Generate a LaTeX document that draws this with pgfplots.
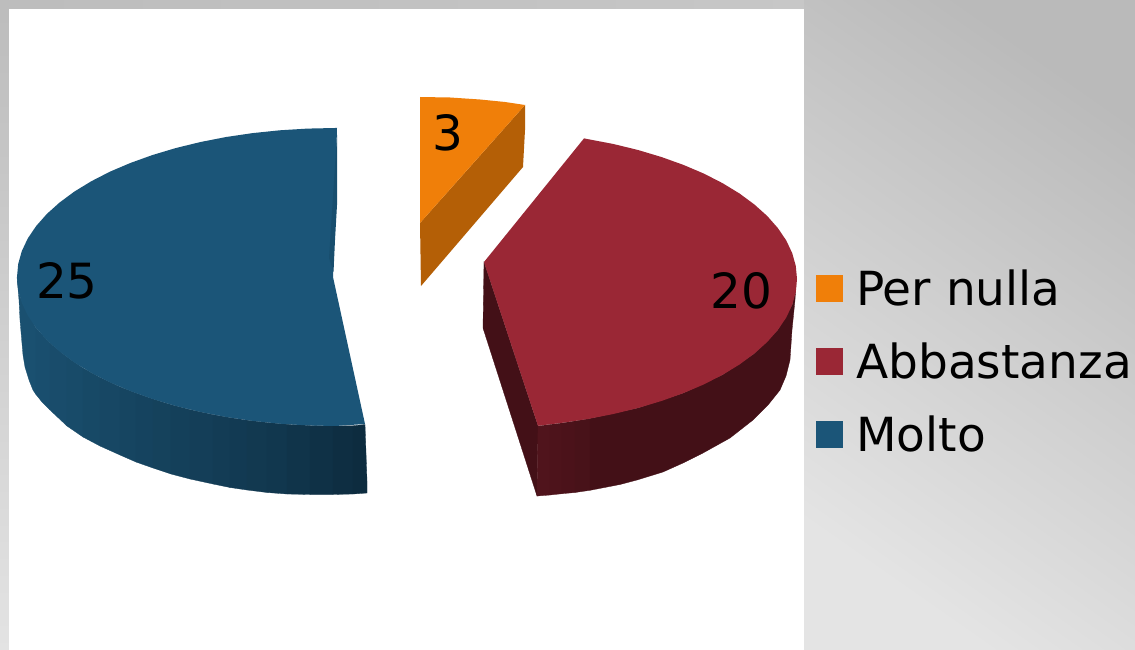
\documentclass[border=0pt]{standalone}
\usepackage{pgfplots}
\pgfplotsset{compat=1.18}
\usepackage{fontspec}
\setmainfont{DejaVu Sans}
\definecolor{bluetop}{HTML}{1B5578}
\definecolor{bluesliver}{HTML}{184E6E}
\definecolor{redtop}{HTML}{9A2735}
\definecolor{orangetop}{HTML}{F07F09}
\definecolor{orangewall}{HTML}{B45F06}
\definecolor{redwall}{HTML}{431017}
\definecolor{redwallc}{HTML}{50141C}
\definecolor{bwl}{HTML}{1A5070}
\definecolor{bwr}{HTML}{0D2C3F}
\pgfplotsset{
  strip/.style={fill=#1, draw=#1, line width=.3pt, forget plot},
  face/.style={fill=#1, draw=none, forget plot},
}
\begin{document}
\begin{tikzpicture}
\shade[top color=black!27, bottom color=black!10.5, shading angle=-35] (804pt,0) rectangle (1135pt,650pt);
\shade[left color=black!26, right color=black!22] (0,641pt) rectangle (804pt,650pt);
\shade[top color=black!26, bottom color=black!11] (0,0) rectangle (9pt,641pt);
\begin{axis}[
  at={(0,0)}, anchor=south west, scale only axis,
  width=1135pt, height=650pt,
  xmin=0, xmax=1135, ymin=0, ymax=650, y dir=reverse,
  hide axis, clip=true,
  legend style={at={(axis cs:816,268)}, anchor=north west, draw=none, fill=none,
    font=\fontsize{47}{56}\selectfont, row sep=31.5pt, inner sep=0pt},
  legend cell align=left,
  legend image code/.code={\fill[draw=none,#1] (0pt,-13.5pt) rectangle (27pt,13.5pt);\path[draw=none,fill=none] (0pt,0pt) -- (38pt,0pt);},
]
% white chart area
\addplot[fill=white, draw=none, forget plot] coordinates {(9,9)(804,9)(804,650)(9,650)} -- cycle;

% Molto: side wall strips, dark to the right
\addplot[strip=bwl!100!bwr] coordinates {(17,277)(20,297)(36,328)(36,394.5)(33,390)(29,380)(25,367)(23,355)(21.7,340)(20,320)(19,300)} -- cycle;
\addplot[strip=bwl!95!bwr] coordinates {(36,328)(50,343)(50,410)(42,402)(36,394.5)} -- cycle;
\addplot[strip=bwl!90!bwr] coordinates {(50,343)(67,357)(67,426)(50,410)} -- cycle;
\addplot[strip=bwl!85!bwr] coordinates {(67,357)(83,368)(83,437)(67,426)} -- cycle;
\addplot[strip=bwl!80!bwr] coordinates {(83,368)(100,377.4)(100,446)(83,437)} -- cycle;
\addplot[strip=bwl!75!bwr] coordinates {(100,377.4)(120,386.8)(120,455)(100,446)} -- cycle;
\addplot[strip=bwl!70!bwr] coordinates {(120,386.8)(136,393)(136,462)(120,455)} -- cycle;
\addplot[strip=bwl!65!bwr] coordinates {(136,393)(153,399)(153,468)(136,462)} -- cycle;
\addplot[strip=bwl!60!bwr] coordinates {(153,399)(171,404.6)(171,474)(153,468)} -- cycle;
\addplot[strip=bwl!55!bwr] coordinates {(171,404.6)(190,409.6)(190,479)(171,474)} -- cycle;
\addplot[strip=bwl!50!bwr] coordinates {(190,409.6)(213,414.6)(213,484)(190,479)} -- cycle;
\addplot[strip=bwl!45!bwr] coordinates {(213,414.6)(230,417.6)(230,487.5)(213,484)} -- cycle;
\addplot[strip=bwl!40!bwr] coordinates {(230,417.6)(247,420.2)(247,490)(230,487.5)} -- cycle;
\addplot[strip=bwl!35!bwr] coordinates {(247,420.2)(267,422.5)(267,492.5)(247,490)} -- cycle;
\addplot[strip=bwl!30!bwr] coordinates {(267,422.5)(287,424.3)(287,494)(267,492.5)} -- cycle;
\addplot[strip=bwl!22!bwr] coordinates {(287,424.3)(310,425.5)(310,494.5)(287,494)} -- cycle;
\addplot[strip=bwl!14!bwr] coordinates {(310,425.5)(333,426)(333,494.5)(310,494.5)} -- cycle;
\addplot[strip=bwl!6!bwr] coordinates {(333,426)(353,425.8)(353,494)(333,494.5)} -- cycle;
\addplot[strip=bwr] coordinates {(353,425.8)(365,424.5)(367,481)(367,493)(353,494)} -- cycle;
% Molto: top face
\addplot[face=bluetop] coordinates {
 (337,128)(335,128)(307.3,128.6)(279.8,130.3)(252.7,133.1)(226.2,137)(200.6,142)(176,148)(152.6,155)
 (130.6,162.9)(110.1,171.6)(91.4,181.2)(74.5,191.5)(59.6,202.5)(46.8,214)(36.2,226)(27.8,238.4)
 (21.8,251.1)(18.2,264)(17,277)(18.2,290)(21.8,302.9)(27.8,315.6)(36.2,328)(46.8,340)(59.6,351.5)
 (74.5,362.5)(91.4,372.8)(110.1,382.4)(130.6,391.1)(152.6,399)(176,406)(200.6,412)(226.2,417)
 (252.7,420.9)(279.8,423.7)(307.3,425.4)(335,426)(365,424)(333,277)} -- cycle;
\addplot[face=bluesliver] coordinates {(337,135)(337,205)(335,240)(333.5,272)(329,258)} -- cycle;

% Abbastanza: walls
\addplot[strip=redwall] coordinates {(484,262)(483,328)(537,496)(538,426)} -- cycle;
\addplot[strip=redwallc] coordinates {(538,426)(550,424.5)(550,495)(537,496)} -- cycle;
\addplot[strip=redwallc!80!redwall] coordinates {(550,424.5)(562,423)(562,493.7)(550,495)} -- cycle;
\addplot[strip=redwallc!60!redwall] coordinates {(562,423)(575,421)(575,492.5)(562,493.7)} -- cycle;
\addplot[strip=redwallc!40!redwall] coordinates {(575,421)(590,418.5)(590,490.3)(575,492.5)} -- cycle;
\addplot[strip=redwall] coordinates {
 (590,418.5)(638,408)(683.4,393.1)(722.6,374.8)(754.4,353.5)(777.8,330)(792.2,304.9)(796,285)(795,300)(792,330)
 (790,360)(786,376)(780,390)(768,405)(753,420)(730,438)(703,453)(683,463)(663,472)(637,480)(620,484.5)(590,490.3)} -- cycle;
% Abbastanza: top face
\addplot[face=redtop] coordinates {
 (484,262)(584,138.4)(613.4,144)(638,150)(661.4,157)(683.4,164.9)(703.9,173.6)(722.6,183.2)(739.5,193.5)
 (754.4,204.5)(767.2,216)(777.8,228)(786.2,240.4)(792.2,253.1)(795.8,266)(797,279)(795.8,292)(792.2,304.9)
 (786.2,317.6)(777.8,330)(767.2,342)(754.4,353.5)(739.5,364.5)(722.6,374.8)(703.9,384.4)(683.4,393.1)
 (661.4,401)(638,408)(613.4,414)(587.8,419)(561.3,422.9)(538,425.8)} -- cycle;

% Per nulla
\addplot[face=orangewall] coordinates {(420,223)(525,105)(525,130)(523,167)(421,286)} -- cycle;
\addplot[face=orangetop] coordinates {(420,97)(450,97.5)(480,99.5)(505,102)(525,105)(420,223)} -- cycle;

\node[anchor=center, font=\fontsize{48.5}{58}\selectfont] at (axis cs:448,133) {3};
\node[anchor=center, font=\fontsize{48.5}{58}\selectfont] at (axis cs:741.5,291) {20};
\node[anchor=center, font=\fontsize{48.5}{58}\selectfont] at (axis cs:67,281) {25};

\addlegendimage{fill=orangetop}\addlegendentry{Per nulla}
\addlegendimage{fill=redtop}\addlegendentry{Abbastanza}
\addlegendimage{fill=bluetop}\addlegendentry{Molto}
\end{axis}
\end{tikzpicture}
\end{document}
